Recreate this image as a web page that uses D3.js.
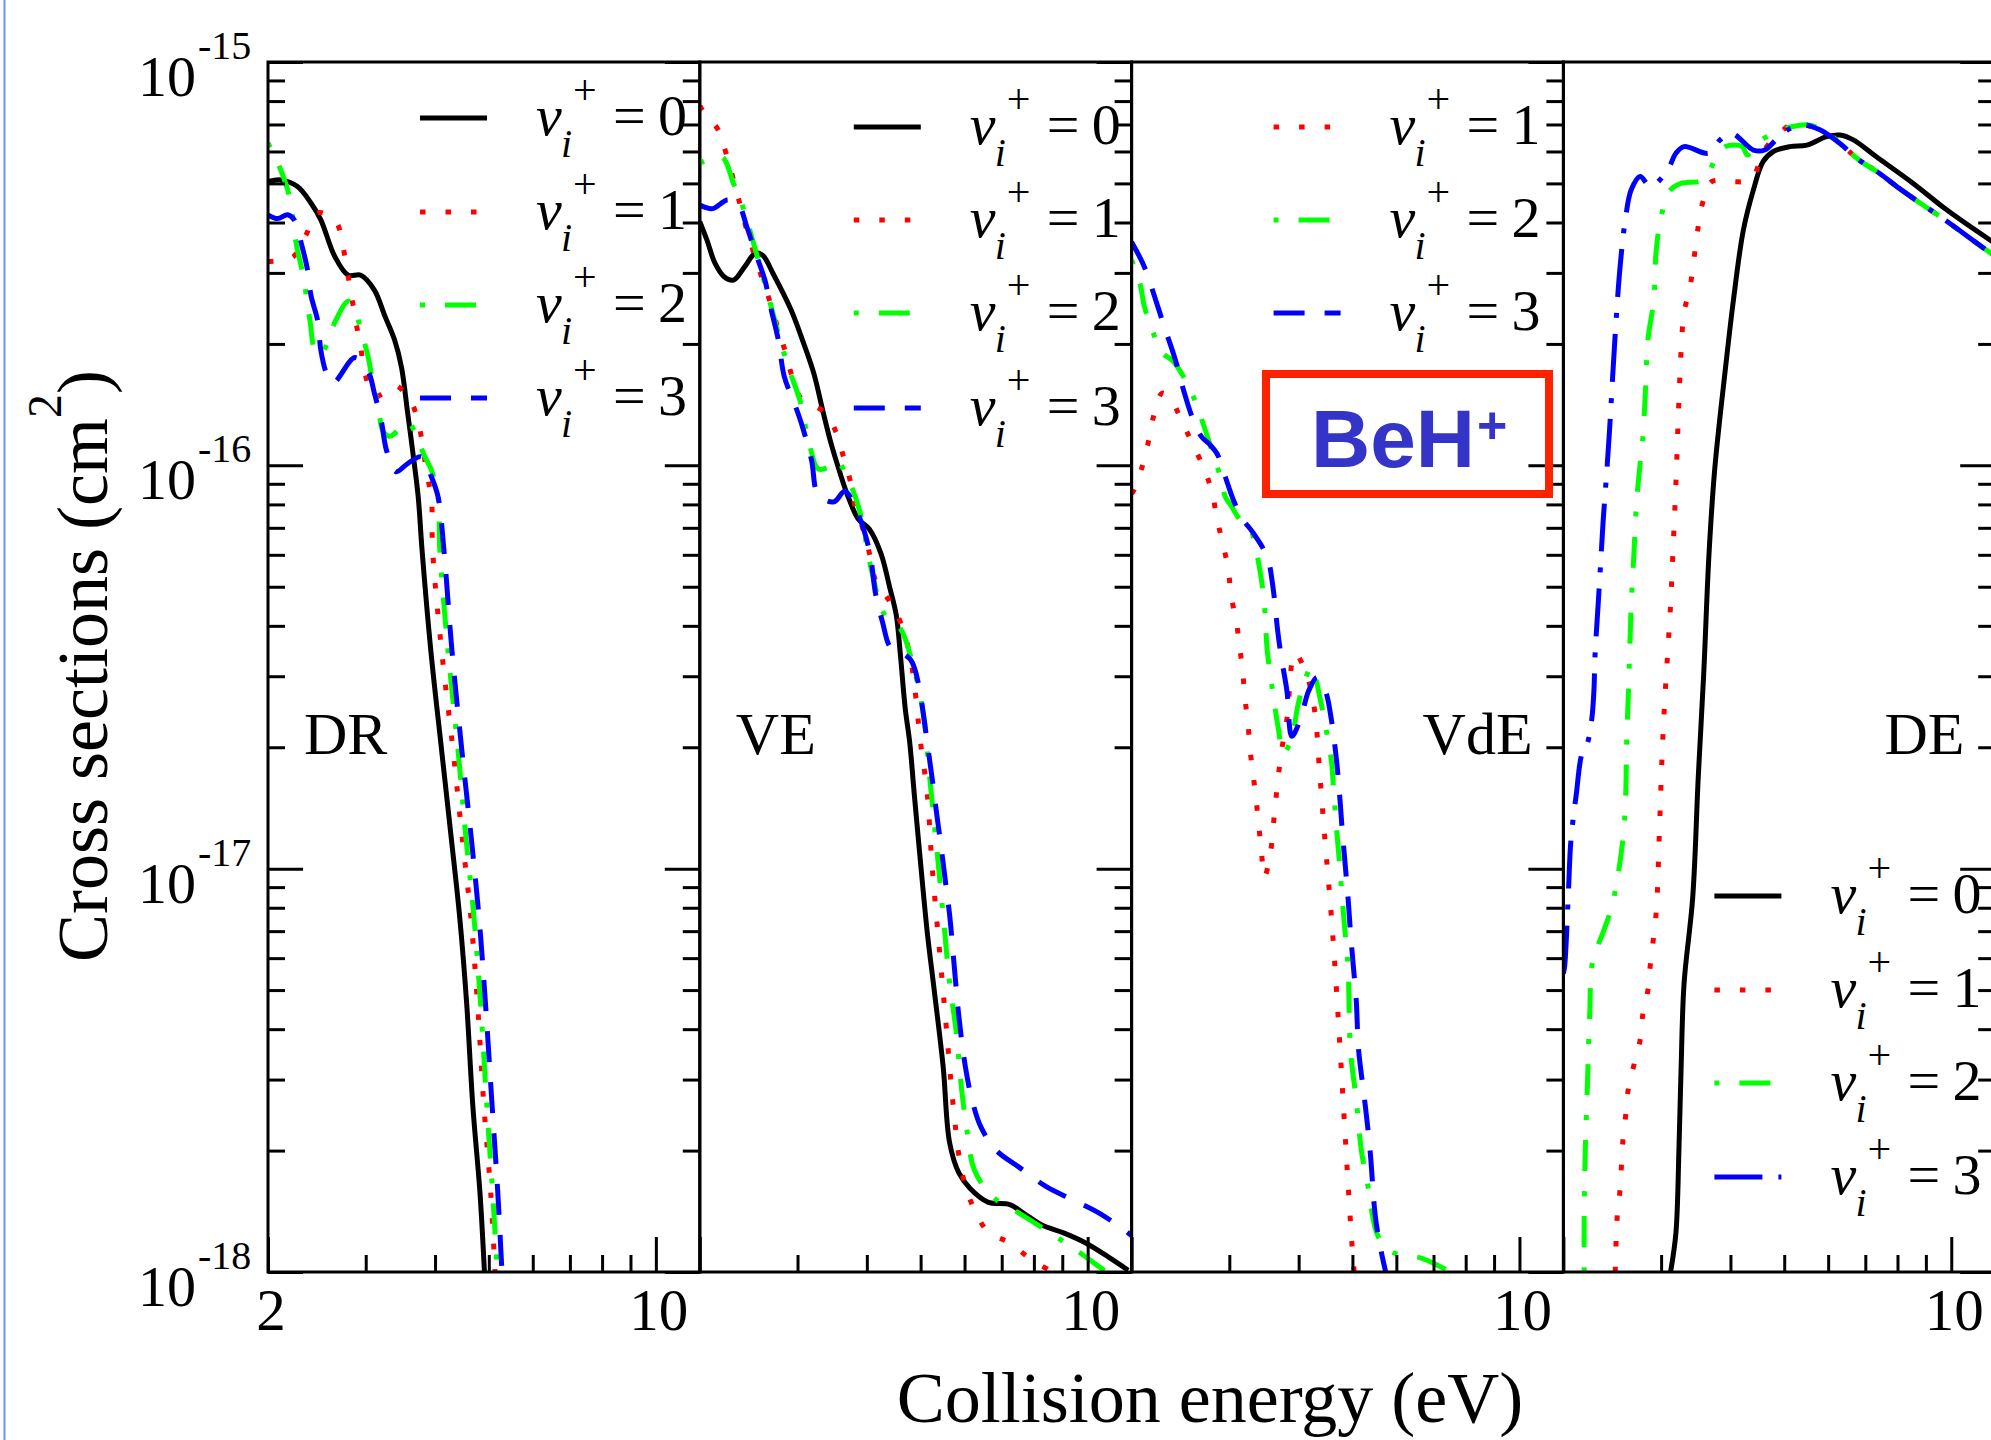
<!DOCTYPE html>
<html>
<head>
<meta charset="utf-8">
<script src="https://cdn.jsdelivr.net/npm/d3@7"></script>
<style>
  body { margin: 0; background: #fff; }
  svg { display: block; }
  text { font-family: "Liberation Serif", "Times New Roman", serif; fill: #000; }
</style>
</head>
<body>
<svg id="chart"></svg>
<script>
// ---- data: [energy eV, cross section cm^2] ----
const panelNames = ["DR", "VE", "VdE", "DE"];
const stateLabels = ["0", "1", "2", "3"];
const yDecades = [-15, -16, -17, -18];
const xMajorTicks = [2, 10];
const xMinorTicks = [3, 4, 5, 6, 7, 8, 9];

const drV0 = [[2.00,5.05e-16],[2.11,5.10e-16],[2.26,4.91e-16],[2.39,4.47e-16],[2.49,4.06e-16],[2.64,3.29e-16],[2.79,2.96e-16],[2.94,2.96e-16],[3.11,2.72e-16],[3.25,2.34e-16],[3.38,2.05e-16],[3.48,1.75e-16],[3.57,1.35e-16],[3.65,1.07e-16],[3.73,8.36e-17],[3.79,6.17e-17],[3.93,3.48e-17],[4.11,1.97e-17],[4.27,1.22e-17],[4.43,7.6e-18],[4.56,4.65e-18],[4.68,2.57e-18],[4.82,1.57e-18],[4.91,1.0e-18]];
const drV1 = [[2.00,3.2e-16],[2.22,3.29e-16],[2.34,3.72e-16],[2.46,4.23e-16],[2.65,4.02e-16],[2.73,3.48e-16],[2.78,3.02e-16],[2.83,2.62e-16],[2.88,2.27e-16],[2.94,1.95e-16],[2.99,1.69e-16],[3.11,1.48e-16],[3.25,1.52e-16],[3.38,1.58e-16],[3.61,1.45e-16],[3.74,1.26e-16],[3.81,1.09e-16],[3.87,9.46e-17],[3.94,8.28e-17],[3.96,6.17e-17],[4.11,3.48e-17],[4.31,1.97e-17],[4.47,1.22e-17],[4.64,7.6e-18],[4.77,4.65e-18],[4.90,2.57e-18],[5.04,1.57e-18],[5.13,1.0e-18]];
const drV2 = [[2.00,6.3e-16],[2.11,5.39e-16],[2.19,4.59e-16],[2.25,3.52e-16],[2.31,2.99e-16],[2.38,2.29e-16],[2.43,1.93e-16],[2.49,1.88e-16],[2.56,2.02e-16],[2.65,2.29e-16],[2.79,2.55e-16],[2.87,2.43e-16],[2.94,2.16e-16],[3.03,1.86e-16],[3.09,1.6e-16],[3.16,1.4e-16],[3.22,1.22e-16],[3.31,1.18e-16],[3.43,1.22e-16],[3.57,1.28e-16],[3.73,1.16e-16],[3.81,1.07e-16],[3.94,9.73e-17],[4.05,8.36e-17],[4.08,6.17e-17],[4.22,3.48e-17],[4.40,1.97e-17],[4.54,1.22e-17],[4.70,7.6e-18],[4.83,4.65e-18],[4.96,2.57e-18],[5.08,1.57e-18],[5.18,1.0e-18]];
const drV3 = [[2.00,4.18e-16],[2.08,4.09e-16],[2.17,4.18e-16],[2.23,4.06e-16],[2.30,3.52e-16],[2.36,3.02e-16],[2.39,2.64e-16],[2.46,2.27e-16],[2.49,1.93e-16],[2.55,1.69e-16],[2.62,1.60e-16],[2.87,1.85e-16],[3.03,1.71e-16],[3.11,1.51e-16],[3.20,1.29e-16],[3.27,1.09e-16],[3.40,9.64e-17],[3.57,1.01e-16],[3.78,1.05e-16],[3.94,9.37e-17],[4.05,8.36e-17],[4.15,6.17e-17],[4.29,3.48e-17],[4.47,1.97e-17],[4.64,1.22e-17],[4.80,7.6e-18],[4.93,4.65e-18],[5.07,2.57e-18],[5.19,1.57e-18],[5.28,1.0e-18]];

const veV0 = [[2.00,4.02e-16],[2.06,3.62e-16],[2.13,3.17e-16],[2.21,2.94e-16],[2.30,2.88e-16],[2.41,3.11e-16],[2.52,3.36e-16],[2.60,3.31e-16],[2.71,2.99e-16],[2.92,2.43e-16],[3.06,2.05e-16],[3.21,1.69e-16],[3.33,1.37e-16],[3.45,1.13e-16],[3.58,9.56e-17],[3.69,8.45e-17],[3.86,7.36e-17],[4.04,6.95e-17],[4.24,6.05e-17],[4.40,4.97e-17],[4.52,4.25e-17],[4.60,3.36e-17],[4.69,2.50e-17],[4.78,2.05e-17],[4.87,1.53e-17],[5.00,1.03e-17],[5.14,6.95e-18],[5.29,5.0e-18],[5.49,3.23e-18],[5.64,2.09e-18],[5.86,1.76e-18],[6.14,1.61e-18],[6.61,1.49e-18],[7.24,1.47e-18],[7.66,1.40e-18],[8.25,1.31e-18],[9.05,1.25e-18],[9.92,1.18e-18],[10.89,1.09e-18],[11.83,1.01e-18]];
const veV1 = [[2.00,7.8e-16],[2.03,7.53e-16],[2.16,6.78e-16],[2.23,5.94e-16],[2.36,4.47e-16],[2.43,3.83e-16],[2.56,3.05e-16],[2.67,2.57e-16],[2.76,2.21e-16],[2.85,1.92e-16],[2.93,1.67e-16],[3.05,1.46e-16],[3.34,1.36e-16],[3.52,1.21e-16],[3.63,1.05e-16],[3.73,9.2e-17],[3.81,7.89e-17],[3.94,6.92e-17],[4.05,6.0e-17],[4.15,5.17e-17],[4.40,4.59e-17],[4.60,4.08e-17],[4.80,3.29e-17],[5.00,2.05e-17],[5.14,1.53e-17],[5.24,1.03e-17],[5.44,5.71e-18],[5.54,4.3e-18],[5.75,2.43e-18],[5.91,1.82e-18],[6.14,1.51e-18],[6.61,1.26e-18],[7.24,1.18e-18],[7.87,1.08e-18],[8.64,1.0e-18]];
const veV2 = [[2.00,5.61e-16],[2.19,5.82e-16],[2.30,5.0e-16],[2.39,4.38e-16],[2.50,3.55e-16],[2.59,2.99e-16],[2.69,2.47e-16],[2.79,2.05e-16],[2.90,1.72e-16],[3.03,1.45e-16],[3.13,1.18e-16],[3.27,9.8e-17],[3.41,9.9e-17],[3.52,1.03e-16],[3.67,9.5e-17],[3.88,7.74e-17],[4.08,5.48e-17],[4.31,4.25e-17],[4.60,3.93e-17],[4.78,3.42e-17],[5.05,2.45e-17],[5.19,1.69e-17],[5.34,1.14e-17],[5.49,7.67e-18],[5.64,5.2e-18],[5.80,3.91e-18],[5.91,2.94e-18],[6.07,2.21e-18],[6.25,1.79e-18],[6.73,1.54e-18],[7.52,1.40e-18],[8.41,1.27e-18],[9.39,1.15e-18],[10.49,1.03e-18],[10.8,1.0e-18]];
const veV3 = [[2.00,4.42e-16],[2.11,4.33e-16],[2.24,4.55e-16],[2.34,4.47e-16],[2.43,3.91e-16],[2.52,3.36e-16],[2.62,2.88e-16],[2.69,2.43e-16],[2.77,2.05e-16],[2.84,1.66e-16],[2.97,1.41e-16],[3.06,1.25e-16],[3.18,1.03e-16],[3.27,8.45e-17],[3.49,8.12e-17],[3.65,8.63e-17],[3.82,7.82e-17],[4.04,6.17e-17],[4.15,4.78e-17],[4.27,4.08e-17],[4.40,3.56e-17],[4.52,3.49e-17],[4.80,3.29e-17],[4.96,2.86e-17],[5.05,2.45e-17],[5.14,2.05e-17],[5.24,1.69e-17],[5.34,1.38e-17],[5.44,1.14e-17],[5.54,9.34e-18],[5.64,7.67e-18],[5.75,5.71e-18],[5.86,4.3e-18],[6.02,3.23e-18],[6.19,2.67e-18],[6.42,2.29e-18],[6.85,2.0e-18],[7.52,1.82e-18],[8.41,1.63e-18],[9.39,1.51e-18],[10.49,1.40e-18],[11.83,1.25e-18],[12.0,1.23e-18]];

const vdeV1 = [[2.00,8.5e-17],[2.02,8.69e-17],[2.09,9.93e-17],[2.14,1.13e-16],[2.19,1.32e-16],[2.27,1.51e-16],[2.36,1.45e-16],[2.46,1.29e-16],[2.69,9.93e-17],[2.79,8.63e-17],[2.85,7.36e-17],[2.92,6.41e-17],[2.99,5.48e-17],[3.02,4.78e-17],[3.09,4.08e-17],[3.13,3.56e-17],[3.17,3.1e-17],[3.20,2.65e-17],[3.24,2.31e-17],[3.27,1.97e-17],[3.31,1.72e-17],[3.35,1.5e-17],[3.39,1.28e-17],[3.43,1.09e-17],[3.47,9.53e-18],[3.55,1.07e-17],[3.63,1.44e-17],[3.72,1.93e-17],[3.81,2.35e-17],[3.94,3.42e-17],[4.13,3.04e-17],[4.27,2.49e-17],[4.37,1.69e-17],[4.47,1.14e-17],[4.58,7.67e-18],[4.68,5.0e-18],[4.79,2.94e-18],[4.91,1.66e-18],[5.02,1.05e-18],[5.04,1.0e-18]];
const vdeV2 = [[2.00,3.23e-16],[2.07,2.83e-16],[2.11,2.47e-16],[2.19,2.12e-16],[2.27,1.9e-16],[2.37,1.82e-16],[2.48,1.66e-16],[2.60,1.45e-16],[2.69,1.27e-16],[2.79,1.09e-16],[2.89,9.37e-17],[2.95,8.36e-17],[3.02,7.96e-17],[3.13,7.36e-17],[3.27,6.95e-17],[3.39,5.7e-17],[3.47,4.51e-17],[3.51,3.49e-17],[3.59,2.76e-17],[3.67,2.26e-17],[3.76,1.93e-17],[3.89,2.13e-17],[3.99,2.55e-17],[4.08,2.86e-17],[4.22,3.16e-17],[4.37,2.65e-17],[4.47,2.26e-17],[4.58,1.86e-17],[4.63,1.53e-17],[4.68,1.26e-17],[4.74,1.03e-17],[4.79,8.47e-18],[4.85,6.95e-18],[4.91,5.71e-18],[4.96,3.55e-18],[5.08,2.67e-18],[5.19,2.0e-18],[5.32,1.66e-18],[5.57,1.22e-18],[5.90,1.12e-18],[6.69,1.08e-18],[7.51,1.0e-18]];
const vdeV3 = [[2.00,3.58e-16],[2.11,3.1e-16],[2.21,2.57e-16],[2.29,2.21e-16],[2.40,1.82e-16],[2.48,1.54e-16],[2.57,1.32e-16],[2.67,1.18e-16],[2.76,1.13e-16],[2.85,1.07e-16],[2.95,9.37e-17],[3.06,8.12e-17],[3.17,7.36e-17],[3.31,6.81e-17],[3.51,5.93e-17],[3.59,5.07e-17],[3.67,3.85e-17],[3.72,3.36e-17],[3.81,2.76e-17],[3.89,2.13e-17],[4.03,2.35e-17],[4.17,2.76e-17],[4.32,2.98e-17],[4.47,2.76e-17],[4.58,2.35e-17],[4.68,1.86e-17],[4.74,1.53e-17],[4.79,1.26e-17],[4.85,1.03e-17],[4.91,8.47e-18],[4.96,6.95e-18],[5.02,5.71e-18],[5.08,4.72e-18],[5.13,3.55e-18],[5.26,2.67e-18],[5.38,2.0e-18],[5.50,1.37e-18],[5.63,1.13e-18],[5.74,1.0e-18]];

const deV0 = [[3.12,1.0e-18],[3.19,1.25e-18],[3.23,2.0e-18],[3.26,3.23e-18],[3.30,5.2e-18],[3.42,8.47e-18],[3.50,1.69e-17],[3.58,3.04e-17],[3.66,6.05e-17],[3.75,9.89e-17],[3.92,1.75e-16],[4.05,2.57e-16],[4.22,3.83e-16],[4.40,4.82e-16],[4.58,5.66e-16],[4.78,6.0e-16],[5.12,6.17e-16],[5.49,6.22e-16],[5.96,6.53e-16],[6.30,6.59e-16],[6.66,6.41e-16],[7.33,5.82e-16],[8.54,5.0e-16],[9.81,4.3e-16],[11.74,3.62e-16],[12.0,3.55e-16]];
const deV1 = [[2.48,1.0e-18],[2.50,1.37e-18],[2.53,1.6e-18],[2.56,2.12e-18],[2.59,2.45e-18],[2.62,2.86e-18],[2.68,3.26e-18],[2.75,3.76e-18],[2.78,4.34e-18],[2.84,5.0e-18],[2.87,5.82e-18],[2.94,7.83e-18],[2.98,1.26e-17],[3.01,1.86e-17],[3.04,2.5e-17],[3.08,3.36e-17],[3.12,4.51e-17],[3.15,6.05e-17],[3.19,9.0e-17],[3.23,1.45e-16],[3.26,1.93e-16],[3.30,2.4e-16],[3.38,2.75e-16],[3.50,3.91e-16],[3.57,4.51e-16],[3.70,5.05e-16],[4.02,5.05e-16],[4.35,5.1e-16],[4.52,5.66e-16],[4.65,6.17e-16],[4.94,6.72e-16],[5.26,7.11e-16],[5.57,6.92e-16],[5.96,6.65e-16],[6.30,6.28e-16],[6.83,5.71e-16],[7.42,5.3e-16],[8.06,4.86e-16],[8.81,4.46e-16],[9.64,4.1e-16],[11.46,3.45e-16],[12.0,3.3e-16]];
const deV2 = [[2.18,1.0e-18],[2.18,1.37e-18],[2.19,2.0e-18],[2.21,2.94e-18],[2.23,4.3e-18],[2.26,5.93e-18],[2.36,6.97e-18],[2.45,8.15e-18],[2.56,1.18e-17],[2.59,1.53e-17],[2.60,2.05e-17],[2.62,2.76e-17],[2.65,4.51e-17],[2.68,6.05e-17],[2.71,8.12e-17],[2.75,1.01e-16],[2.78,1.16e-16],[2.81,1.51e-16],[2.84,2.05e-16],[2.91,2.57e-16],[2.94,3.42e-16],[3.01,4.22e-16],[3.12,4.82e-16],[3.26,5.0e-16],[3.58,5.1e-16],[3.75,5.71e-16],[3.92,6.17e-16],[4.20,6.17e-16],[4.29,5.88e-16],[4.46,6.28e-16],[4.78,6.65e-16],[5.18,6.92e-16],[5.54,6.98e-16],[6.01,6.65e-16],[6.30,6.28e-16],[6.83,5.71e-16],[7.42,5.3e-16],[8.06,4.86e-16],[8.81,4.46e-16],[9.64,4.1e-16],[11.46,3.45e-16],[12.0,3.3e-16]];
const deV3 = [[2.00,5.5e-18],[2.01,5.71e-18],[2.04,8.47e-18],[2.06,1.14e-17],[2.08,1.31e-17],[2.11,1.53e-17],[2.16,1.93e-17],[2.21,2.05e-17],[2.25,2.35e-17],[2.27,2.76e-17],[2.28,3.36e-17],[2.31,4.51e-17],[2.34,6.05e-17],[2.36,7.36e-17],[2.39,9.33e-17],[2.42,1.20e-16],[2.48,2.12e-16],[2.53,3.1e-16],[2.59,4.13e-16],[2.65,4.82e-16],[2.75,5.2e-16],[2.87,4.91e-16],[3.08,5.39e-16],[3.19,5.94e-16],[3.30,6.17e-16],[3.66,5.94e-16],[3.83,6.41e-16],[4.02,6.65e-16],[4.40,6.05e-16],[4.61,6.05e-16],[4.83,6.41e-16],[5.06,6.78e-16],[5.42,6.98e-16],[5.81,6.78e-16],[6.30,6.28e-16],[6.83,5.71e-16],[7.42,5.3e-16],[8.06,4.86e-16],[8.81,4.46e-16],[9.64,4.1e-16],[11.46,3.45e-16],[12.0,3.3e-16]];

function drawChart() {
    var width = 1991, height = 1440;
    var top = 62, bottom = 1272, panelW = 431.8;
    var lefts = [268, 699.8, 1131.6, 1563.4];

    var panels = [
        {name: panelNames[0], series: [drV0, drV1, drV2, drV3], states: [0, 1, 2, 3]},
        {name: panelNames[1], series: [veV0, veV1, veV2, veV3], states: [0, 1, 2, 3]},
        {name: panelNames[2], series: [vdeV1, vdeV2, vdeV3], states: [1, 2, 3]},
        {name: panelNames[3], series: [deV0, deV1, deV2, deV3], states: [0, 1, 2, 3]}
    ];

    var colors = ["#000000", "#ff0000", "#00ff00", "#0000ff"];
    var dashes = [null, "5.5,20", "5,20,31,20", "31,20"];
    var deBlueDash = "48,16,5,16";

    // legend placement per panel (offset of the sample line, row centres)
    var legendX = [152, 154, 142, 151];
    var legendRows = [[118, 212, 305, 398], [127, 220, 313, 408], [127, 220, 313], [896, 990, 1083, 1177]];

    var svg = d3.select("#chart").attr("width", width).attr("height", height);
    svg.append("rect").attr("width", width).attr("height", height).attr("fill", "#fff");

    // thin blue page edge at the left
    svg.append("line").attr("x1", 4.5).attr("x2", 4.5).attr("y1", 0).attr("y2", height)
        .attr("stroke", "#6d98e8").attr("stroke-width", 2);

    var y = d3.scaleLog().domain([1e-18, 1e-15]).range([bottom, top]);
    var yMinor = [];
    yDecades.slice(1).forEach(function(e) {
        for (var m = 2; m <= 9; m++) yMinor.push(m * Math.pow(10, e));
    });
    var yMajor = yDecades.map(function(e) { return Math.pow(10, e); });

    panels.forEach(function(p, i) {
        var x0 = lefts[i];
        var x = d3.scaleLog().domain([2, 12]).range([x0, x0 + panelW]);

        var line = d3.line()
            .x(function(d) { return x(d[0]); })
            .y(function(d) { return y(d[1]); })
            .curve(d3.curveCatmullRom.alpha(0.5));

        svg.append("clipPath").attr("id", "clip" + i)
            .append("rect").attr("x", x0).attr("y", top).attr("width", panelW).attr("height", bottom - top);

        var g = svg.append("g").attr("clip-path", "url(#clip" + i + ")");
        p.series.forEach(function(s, k) {
            var st = p.states[k];
            var dash = (i == 3 && st == 3) ? deBlueDash : dashes[st];
            g.append("path")
                .attr("d", line(s))
                .attr("fill", "none")
                .attr("stroke", colors[st])
                .attr("stroke-width", 5)
                .attr("stroke-linejoin", "round")
                .attr("stroke-dasharray", dash);
        });

        // ticks (inward), drawn with d3 axes
        function tickAxis(axis, tx, ty) {
            var a = svg.append("g").attr("transform", "translate(" + tx + "," + ty + ")").call(axis);
            a.select(".domain").remove();
            a.selectAll("line").attr("stroke", "#000").attr("stroke-width", 3);
            a.selectAll("text").remove();
        }
        tickAxis(d3.axisBottom(x).tickValues(xMinorTicks).tickSize(-17).tickFormat(""), 0, bottom);
        tickAxis(d3.axisBottom(x).tickValues(xMajorTicks).tickSize(-35).tickFormat(""), 0, bottom);
        tickAxis(d3.axisRight(y).tickValues(yMinor).tickSize(-17).tickFormat(""), x0 + panelW, 0);
        tickAxis(d3.axisRight(y).tickValues(yMajor).tickSize(-35).tickFormat(""), x0 + panelW, 0);
        if (i == 0) {
            tickAxis(d3.axisLeft(y).tickValues(yMinor).tickSize(-17).tickFormat(""), x0, 0);
            tickAxis(d3.axisLeft(y).tickValues(yMajor).tickSize(-35).tickFormat(""), x0, 0);
        }

        // frame
        svg.append("rect").attr("x", x0).attr("y", top).attr("width", panelW).attr("height", bottom - top)
            .attr("fill", "none").attr("stroke", "#000").attr("stroke-width", 3);

        // x tick labels
        var xl = (i == 0) ? xMajorTicks : [10];
        xl.forEach(function(v) {
            svg.append("text").attr("x", x(v) + 3).attr("y", 1330)
                .attr("text-anchor", "middle").attr("font-size", 59).text(v);
        });

        // panel name
        var nameG = svg.append("text").attr("y", 754).attr("font-size", 60).text(p.name);
        if (i < 2) nameG.attr("x", x0 + 36).attr("text-anchor", "start");
        else nameG.attr("x", x0 + 401).attr("text-anchor", "end");

        // legend
        p.states.forEach(function(st, k) {
            var lx = x0 + legendX[i], ly = legendRows[i][k];
            var dash = (i == 3 && st == 3) ? deBlueDash : dashes[st];
            svg.append("line").attr("x1", lx).attr("x2", lx + 67).attr("y1", ly).attr("y2", ly)
                .attr("stroke", colors[st]).attr("stroke-width", 5).attr("stroke-dasharray", dash);
            var t = svg.append("text").attr("font-size", 58);
            t.append("tspan").attr("x", lx + 116).attr("y", ly + 17).attr("font-style", "italic").text("v");
            t.append("tspan").attr("x", lx + 141).attr("y", ly + 39).attr("font-style", "italic").attr("font-size", 40).text("i");
            t.append("tspan").attr("x", lx + 153).attr("y", ly - 14).attr("font-size", 42).text("+");
            t.append("tspan").attr("x", lx + 193).attr("y", ly + 17).text("=");
            t.append("tspan").attr("x", lx + 238).attr("y", ly + 17).text(stateLabels[st]);
        });
    });

    // y tick labels 10^n
    yDecades.forEach(function(e) {
        var yy = y(Math.pow(10, e));
        svg.append("text").attr("x", 196).attr("y", yy + 34).attr("text-anchor", "end")
            .attr("font-size", 58).text("10");
        svg.append("text").attr("x", 198).attr("y", yy - 3).attr("font-size", 40).text("-" + (-e));
    });

    // axis titles
    svg.append("text").attr("x", 1210).attr("y", 1422).attr("text-anchor", "middle")
        .attr("font-size", 72).text("Collision energy (eV)");
    var yt = svg.append("text").attr("transform", "translate(107,666) rotate(-90)")
        .attr("text-anchor", "middle").attr("font-size", 72);
    yt.append("tspan").text("Cross sections (cm");
    yt.append("tspan").attr("dy", -46).attr("font-size", 48).text("2");
    yt.append("tspan").attr("dy", 46).text(")");

    // BeH+ box
    svg.append("rect").attr("x", 1266).attr("y", 374).attr("width", 283).attr("height", 120)
        .attr("fill", "none").attr("stroke", "#ff2200").attr("stroke-width", 8);
    var bt = svg.append("text").attr("x", 1311).attr("y", 467)
        .style("font-family", "'Liberation Sans', Arial, sans-serif")
        .attr("font-weight", "bold").attr("font-size", 82).style("fill", "#3434c8");
    bt.append("tspan").text("BeH");
    bt.append("tspan").attr("x", 1477).attr("y", 443).attr("font-size", 52).text("+");
}

window.onload = drawChart;
</script>
</body>
</html>
